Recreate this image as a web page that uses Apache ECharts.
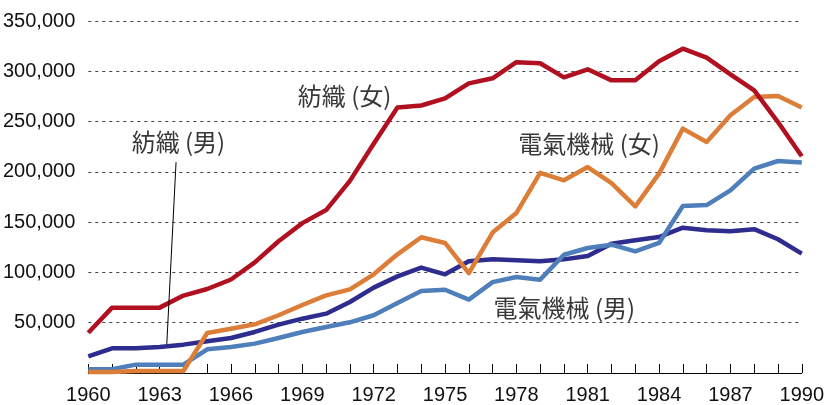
<!DOCTYPE html>
<html><head><meta charset="utf-8">
<script src="https://cdn.jsdelivr.net/npm/echarts@6/dist/echarts.min.js"></script>
<style>html,body{margin:0;padding:0;background:#fff}#c{width:827px;height:405px}</style>
</head><body><div id="c"></div>
<script>
const years = [];
for (let y = 1960; y <= 1990; y++) years.push(y);
const textileF = [40000,65000,65000,65000,77000,83500,93000,110000,131000,149000,162000,191000,228000,264000,266000,273000,288000,293000,309000,308000,294000,302000,291000,291000,310000,322500,313500,297000,281000,249500,215500];
const electricF = [1000,1000,2000,2000,2000,39800,44000,48400,57400,67600,77200,83200,98100,118000,135000,129300,99400,139600,159000,199000,191600,204800,188900,165700,198200,243000,229700,256200,274400,275400,263900];
const textileM = [16600,24500,24500,25900,28200,31500,34800,40800,48100,54000,59000,70600,84900,96100,104800,98100,111100,113100,112100,111000,113000,116300,128600,132000,135200,144500,142000,141000,143000,133000,118700];
const electricM = [3700,3700,8300,8300,8300,23600,25900,29200,34800,40800,45700,50400,57400,69600,81500,82800,73000,90400,95400,92800,117600,124300,127600,121000,129300,166000,167000,181600,203200,210800,209200];
const seriesNames = ['紡織 (女)','電氣機械 (女)','紡織 (男)','電氣機械 (男)'];
const seriesColors = ['#B11020','#DC7D38','#2E2C8E','#4F7FBB'];
const seriesZ = [10, 8, 6, 7];
const xLabelYears = [1960,1963,1966,1969,1972,1975,1978,1981,1984,1987,1990];
// annotation anchors in data coordinates
const annotations = [
  {text:'紡織 (女)', at:[1970.78, 275100]},
  {text:'紡織 (男)', at:[1963.79, 230300]},
  {text:'電氣機械 (女)', at:[1981.06, 228300]},
  {text:'電氣機械 (男)', at:[1980.02, 64300]}
];
const leader = [[1963.69, 209700],[1963.3, 28500]];

const allData = [textileF, electricF, textileM, electricM];
const chart = echarts.init(document.getElementById('c'), null, {renderer:'canvas'});
const numFont = '"Liberation Sans Narrow","Liberation Sans",Arial,sans-serif';
chart.setOption({
  animation:false,
  grid:{left:85, right:21, top:21, bottom:32, containLabel:false},
  xAxis:{type:'value', min:1960, max:1990, interval:1,
    axisLine:{show:true, lineStyle:{color:'#000', width:1}},
    axisTick:{show:true, inside:true, length:9, lineStyle:{color:'#000'}},
    splitLine:{show:false},
    axisLabel:{fontSize:20, color:'#111', fontFamily:numFont, margin:12,
      formatter:v => xLabelYears.includes(v) ? String(v) : ''}
  },
  yAxis:{type:'value', min:0, max:350000, interval:50000,
    axisLine:{show:false}, axisTick:{show:false},
    splitLine:{show:true, lineStyle:{color:'#444', type:[3,4], width:1}},
    axisLabel:{fontSize:20, color:'#111', fontFamily:numFont, margin:13,
      formatter:v => v === 0 ? '' : v.toLocaleString('en-US')}
  },
  series: allData.map((d,i)=>({
    name:seriesNames[i], type:'line', symbol:'none', z:seriesZ[i],
    lineStyle:{width:4.5, color:seriesColors[i], join:'round'},
    data: d.map((v,j)=>[years[j], v])
  }))
});
const textFont = '"Noto Sans CJK JP","Liberation Sans",sans-serif';
const g = annotations.map(a=>{
  const p = chart.convertToPixel({gridIndex:0}, a.at);
  return {type:'text', x:p[0], y:p[1], style:{text:a.text, fill:'#383838', font:'24px '+textFont, align:'center', verticalAlign:'middle'}, z:100};
});
const p1 = chart.convertToPixel({gridIndex:0}, leader[0]);
const p2 = chart.convertToPixel({gridIndex:0}, leader[1]);
g.push({type:'line', shape:{x1:p1[0],y1:p1[1],x2:p2[0],y2:p2[1]}, style:{stroke:'#000', lineWidth:1}, z:100});
chart.setOption({graphic:g});
</script></body></html>
